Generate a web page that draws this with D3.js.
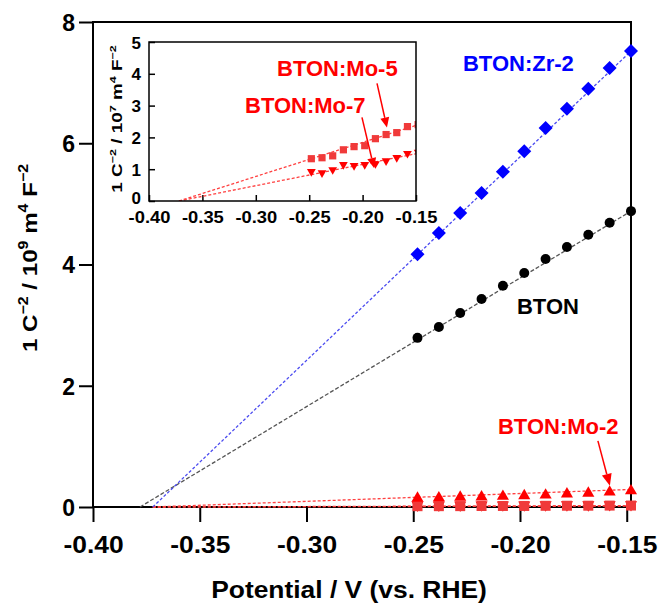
<!DOCTYPE html>
<html lang="en">
<head>
<meta charset="UTF-8">
<title>Mott-Schottky plot</title>
<script src="https://d3js.org/d3.v7.min.js"></script>
<style>
  body { margin: 0; background: #fff; }
  svg { display: block; font-family: "Liberation Sans", Arial, sans-serif; font-weight: bold; }
</style>
</head>
<body>
<svg width="660" height="603"></svg>
<script>
// potentials (V vs. RHE)
const potentials = [-0.248, -0.238, -0.228, -0.218, -0.208, -0.198, -0.188, -0.178, -0.168, -0.158, -0.148];

// main plot, 1 C^-2 / 10^9 m^4 F^-2
const zr2 = [4.17, 4.52, 4.85, 5.18, 5.53, 5.87, 6.25, 6.57, 6.90, 7.24, 7.52];
const bton = [2.79, 2.97, 3.20, 3.43, 3.65, 3.86, 4.09, 4.29, 4.49, 4.69, 4.88];
const mo2 = [0.17, 0.175, 0.185, 0.19, 0.20, 0.21, 0.22, 0.24, 0.25, 0.27, 0.29];

// inset, 1 C^-2 / 10^7 m^4 F^-2
const mo5 = [1.33, 1.36, 1.42, 1.61, 1.71, 1.74, 1.96, 2.09, 2.15, 2.34, 2.40];
const mo7 = [0.89, 0.85, 0.95, 1.11, 1.08, 1.11, 1.14, 1.23, 1.33, 1.46, 1.50];

// x-intercepts of the dashed fit lines
const interceptZr2 = -0.372;
const interceptBton = -0.378;
const interceptMo2 = -0.372;
const interceptMo5 = -0.372;
const interceptMo7 = -0.372;

const xTicks = [-0.40, -0.35, -0.30, -0.25, -0.20, -0.15];
const yTicks = [0, 2, 4, 6, 8];
const insetYTicks = [0, 1, 2, 3, 4, 5];

const red = "#ff0000", blue = "#0000ff";
const fmtX = d => d.toFixed(2);   // plain hyphen, as in the figure

const svg = d3.select("svg");

// ---- main plot ----
const x = d3.scaleLinear().domain([-0.40, -0.148]).range([93, 631]);
const y = d3.scaleLinear().domain([0, 8]).range([507, 22]);

const xAxis = svg.append("g")
    .attr("transform", `translate(0,${y(0)})`)
    .call(d3.axisBottom(x).tickValues(xTicks).tickFormat(fmtX).tickSize(15).tickSizeOuter(0));
xAxis.select(".domain").remove();
xAxis.selectAll("line").attr("stroke", "#000").attr("stroke-width", 2);
xAxis.selectAll("text")
    .attr("y", 46).attr("dy", null)
    .attr("transform", "scale(1.1,1)")
    .style("font-size", "24px").attr("fill", "#000");

const yAxis = svg.append("g")
    .attr("transform", `translate(${x(-0.40)},0)`)
    .call(d3.axisLeft(y).tickValues(yTicks).tickSize(14).tickPadding(4).tickSizeOuter(0));
yAxis.select(".domain").remove();
yAxis.selectAll("line").attr("stroke", "#000").attr("stroke-width", 2);
yAxis.selectAll("text").style("font-size", "23px").attr("fill", "#000").attr("dy", "0.36em");

svg.append("rect")
    .attr("x", x.range()[0]).attr("y", y.range()[1])
    .attr("width", x.range()[1] - x.range()[0]).attr("height", y.range()[0] - y.range()[1])
    .attr("fill", "none").attr("stroke", "#000").attr("stroke-width", 2);

// axis titles
svg.append("text")
    .attr("transform", "translate(349,598) scale(1.1,1)")
    .attr("text-anchor", "middle")
    .style("font-size", "24px")
    .text("Potential / V (vs. RHE)");

function unitLabel(tx, ty, sx, fs, exp) {
    const t = svg.append("text")
        .attr("transform", `translate(${tx},${ty}) rotate(-90) scale(${sx},1)`)
        .attr("text-anchor", "middle")
        .style("font-size", fs + "px");
    const up = fs * 0.42, small = fs * 0.66;
    t.append("tspan").text("1 C");
    t.append("tspan").attr("dy", -up).style("font-size", small + "px").text("\u22122");
    t.append("tspan").attr("dy", up).text(" / 10");
    t.append("tspan").attr("dy", -up).style("font-size", small + "px").text(exp);
    t.append("tspan").attr("dy", up).text(" m");
    t.append("tspan").attr("dy", -up).style("font-size", small + "px").text("4");
    t.append("tspan").attr("dy", up).text(" F");
    t.append("tspan").attr("dy", -up).style("font-size", small + "px").text("\u22122");
}
unitLabel(37, 258, 1.15, 21, "9");

// marker shapes
function marker(g, shape, s, color) {
    if (shape === "circle") return g.append("circle").attr("r", s).attr("fill", color);
    let d;
    if (shape === "diamond") d = `M0,${-s}L${s},0L0,${s}L${-s},0Z`;
    if (shape === "square") d = `M${-s},${-s}H${s}V${s}H${-s}Z`;
    if (shape === "up") d = `M0,${-s}L${s * 1.1},${s * 0.9}H${-s * 1.1}Z`;
    if (shape === "down") d = `M0,${s}L${s * 1.1},${-s * 0.9}H${-s * 1.1}Z`;
    return g.append("path").attr("d", d).attr("fill", color);
}

function series(g, xs, ys, values, intercept, color, lineColor, dash, shape, size) {
    const lastX = potentials[values.length - 1];
    g.append("line")
        .attr("x1", xs(intercept)).attr("y1", ys(0))
        .attr("x2", xs(lastX)).attr("y2", ys(values[values.length - 1]))
        .attr("stroke", lineColor).attr("stroke-width", 1.3).attr("stroke-dasharray", dash);
    values.forEach((v, i) => {
        const m = g.append("g").attr("transform", `translate(${xs(potentials[i])},${ys(v)})`);
        marker(m, shape, size, color);
    });
}

const main = svg.append("g");
const toMain = arr => arr.map(v => v / 100);
series(main, x, y, toMain(mo7), interceptMo7, red, "#ff4040", "3,2", "down", 5.5);
series(main, x, y, toMain(mo5), interceptMo5, "#f03a3a", "#ff4040", "3,2", "square", 5);
series(main, x, y, mo2, interceptMo2, red, "#ff4040", "3,2", "up", 5.5);
series(main, x, y, bton, interceptBton, "#000", "#555", "4,2", "circle", 5);
series(main, x, y, zr2, interceptZr2, blue, "#4b4bf0", "3,2", "diamond", 7);

function arrow(g, xs, ys, x0, y0, x1, y1, color, head, half) {
    const ax = xs(x0), ay = ys(y0), bx = xs(x1), by = ys(y1);
    const len = Math.hypot(bx - ax, by - ay), ux = (bx - ax) / len, uy = (by - ay) / len;
    const cx = bx - ux * head, cy = by - uy * head;
    g.append("line").attr("x1", ax).attr("y1", ay).attr("x2", cx).attr("y2", cy)
        .attr("stroke", color).attr("stroke-width", 1.5);
    g.append("path")
        .attr("d", `M${bx},${by}L${cx - uy * half},${cy + ux * half}L${cx + uy * half},${cy - ux * half}Z`)
        .attr("fill", color);
}

function label(g, xs, ys, lx, ly, text, color, fs) {
    g.append("text").attr("x", xs(lx)).attr("y", ys(ly))
        .attr("fill", color).style("font-size", fs + "px").text(text);
}

label(main, x, y, -0.2267, 7.19, "BTON:Zr-2", blue, 22);
label(main, x, y, -0.2014, 3.18, "BTON", "#000", 22);
label(main, x, y, -0.2103, 1.20, "BTON:Mo-2", red, 22);
arrow(main, x, y, -0.1635, 1.09, -0.1579, 0.35, red, 12, 5);

// ---- inset ----
const ix = d3.scaleLinear().domain([-0.40, -0.15]).range([149, 416]);
const iy = d3.scaleLinear().domain([0, 5]).range([201, 42]);

const inset = svg.append("g");
inset.append("rect")
    .attr("x", 149).attr("y", 42).attr("width", 267).attr("height", 159)
    .attr("fill", "#fff");

svg.append("clipPath").attr("id", "insetClip")
    .append("rect").attr("x", 149).attr("y", 42).attr("width", 267).attr("height", 159);

const ixAxis = inset.append("g")
    .attr("transform", `translate(0,${iy(0)})`)
    .call(d3.axisBottom(ix).tickValues(xTicks).tickFormat(fmtX).tickSizeInner(-6).tickSizeOuter(0));
ixAxis.select(".domain").remove();
ixAxis.selectAll("line").attr("stroke", "#000").attr("stroke-width", 1.5);
ixAxis.selectAll("text").attr("y", 22).attr("dy", null)
    .attr("transform", "scale(1.08,1)")
    .style("font-size", "17px").attr("fill", "#000");

const iyAxis = inset.append("g")
    .attr("transform", `translate(${ix(-0.40)},0)`)
    .call(d3.axisLeft(iy).tickValues(insetYTicks).tickFormat(d3.format("d")).tickSizeInner(-6).tickPadding(8).tickSizeOuter(0));
iyAxis.select(".domain").remove();
iyAxis.selectAll("line").attr("stroke", "#000").attr("stroke-width", 1.5);
iyAxis.selectAll("text").style("font-size", "17px").attr("fill", "#000")
    .attr("dy", d => d === 0 ? "0.12em" : "0.36em");

const insetData = inset.append("g").attr("clip-path", "url(#insetClip)");
series(insetData, ix, iy, mo7, interceptMo7, red, "#ff4040", "3,2", "down", 4);
series(insetData, ix, iy, mo5, interceptMo5, "#f03a3a", "#ff4040", "3,2", "square", 3.6);

inset.append("rect")
    .attr("x", 149).attr("y", 42).attr("width", 267).attr("height", 159)
    .attr("fill", "none").attr("stroke", "#000").attr("stroke-width", 1.5);

unitLabel(122, 119, 1.35, 14, "7");

label(inset, ix, iy, -0.2801, 3.92, "BTON:Mo-5", red, 22);
label(inset, ix, iy, -0.3101, 2.78, "BTON:Mo-7", red, 22);
arrow(inset, ix, iy, -0.1865, 3.70, -0.1772, 2.31, red, 10, 4.5);
arrow(inset, ix, iy, -0.2006, 2.63, -0.1893, 1.04, red, 10, 4.5);
</script>
</body>
</html>
